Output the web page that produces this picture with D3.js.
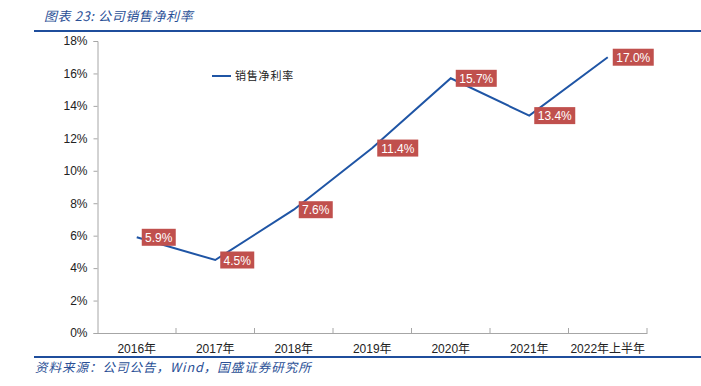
<!DOCTYPE html>
<html>
<head>
<meta charset="utf-8">
<script src="https://cdn.jsdelivr.net/npm/d3@7"></script>
<style>
  body { margin: 0; background: #fff; }
  svg { display: block; font-family: "Liberation Sans", Arial, "Noto Sans CJK SC", sans-serif; }
</style>
</head>
<body>
<svg id="chart" width="701" height="386"></svg>
<script>
const categories = ["2016年", "2017年", "2018年", "2019年", "2020年", "2021年", "2022年上半年"];
const netMargin = [5.9, 4.5, 7.6, 11.4, 15.7, 13.4, 17.0];
const yTicks = [0, 2, 4, 6, 8, 10, 12, 14, 16, 18];

const svg = d3.select("#chart");
const BLUE = "#1f55a5";
const RED = "#c0504d";

// header
svg.append("text")
  .attr("x", 44).attr("y", 21)
  .attr("font-size", 13).attr("font-style", "italic")
  .attr("fill", "#2a4f96")
  .attr("letter-spacing", 0.6)
  .attr("font-family", "'Noto Sans CJK SC', sans-serif")
  .text("图表 23:  公司销售净利率");
svg.append("line")
  .attr("x1", 34).attr("x2", 701).attr("y1", 31).attr("y2", 31)
  .attr("stroke", "#1f4e9c").attr("stroke-width", 2);

const x = d3.scaleBand().domain(categories).range([97.5, 647]);
const y = d3.scaleLinear().domain([0, 18]).range([333, 41]);

// y axis
const yAxis = svg.append("g")
  .attr("transform", "translate(97.5,0)")
  .call(d3.axisLeft(y).tickValues(yTicks).tickSize(4).tickPadding(6).tickFormat(d => d + "%"));
yAxis.select(".domain").attr("stroke", "#a6a6a6");
yAxis.selectAll(".tick line").attr("stroke", "#a6a6a6");
yAxis.selectAll("text").attr("font-size", 12).attr("fill", "#222");

// x axis
const xAxis = svg.append("g")
  .attr("transform", "translate(0,333)")
  .call(d3.axisBottom(x).tickSize(0).tickPadding(11));
xAxis.select(".domain").attr("stroke", "#a6a6a6");
xAxis.selectAll("text").attr("font-size", 12).attr("fill", "#222")
  .attr("font-family", "'Liberation Sans', 'Noto Sans CJK SC', sans-serif");
// tick marks at band boundaries, pointing up
xAxis.selectAll(".bound")
  .data(categories.slice(1).concat(["end"]))
  .join("line")
  .attr("class", "bound")
  .attr("x1", (d, i) => x.range()[0] + (i + 1) * x.step())
  .attr("x2", (d, i) => x.range()[0] + (i + 1) * x.step())
  .attr("y1", 0).attr("y2", -5)
  .attr("stroke", "#a6a6a6");

// line
const cx = d => x(d) + x.bandwidth() / 2;
svg.append("path")
  .datum(netMargin)
  .attr("fill", "none")
  .attr("stroke", BLUE)
  .attr("stroke-width", 2)
  .attr("d", d3.line().x((d, i) => cx(categories[i])).y(d => y(d)));

// labels
const lab = svg.append("g").selectAll("g")
  .data(netMargin)
  .join("g")
  .attr("transform", (d, i) => `translate(${cx(categories[i]) + 5},${y(d)})`);
lab.append("rect")
  .attr("x", 0).attr("y", -8.5)
  .attr("width", d => d >= 10 ? 41 : 34).attr("height", 17)
  .attr("fill", RED);
lab.append("text")
  .attr("x", d => d >= 10 ? 20.5 : 17).attr("y", 4.5)
  .attr("text-anchor", "middle")
  .attr("font-size", 12).attr("fill", "#fff")
  .text(d => d.toFixed(1) + "%");

// legend
svg.append("line")
  .attr("x1", 212).attr("x2", 231).attr("y1", 76).attr("y2", 76)
  .attr("stroke", BLUE).attr("stroke-width", 2);
svg.append("text")
  .attr("x", 235).attr("y", 80)
  .attr("font-size", 11).attr("fill", "#222")
  .attr("letter-spacing", 0.8)
  .attr("font-family", "'Noto Sans CJK SC', sans-serif")
  .text("销售净利率");

// footer
svg.append("line")
  .attr("x1", 34).attr("x2", 701).attr("y1", 357).attr("y2", 357)
  .attr("stroke", "#1f4e9c").attr("stroke-width", 2);
svg.append("text")
  .attr("x", 35).attr("y", 372)
  .attr("font-size", 12.5).attr("font-style", "italic")
  .attr("fill", "#2a4f96")
  .attr("letter-spacing", 1)
  .attr("font-family", "'Noto Sans CJK SC', sans-serif")
  .text("资料来源：公司公告，Wind，国盛证券研究所");
</script>
</body>
</html>
